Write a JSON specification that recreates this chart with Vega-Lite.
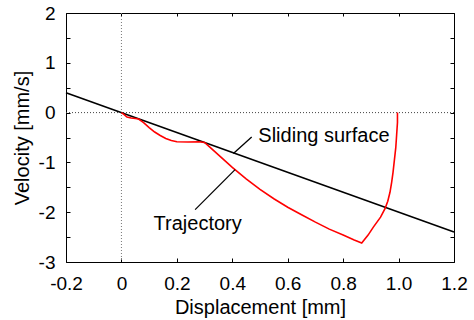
{
  "$schema": "https://vega.github.io/schema/vega-lite/v6.json",
  "autosize": "none",
  "padding": {"left": 66, "top": 13, "right": 20, "bottom": 58},
  "width": 388,
  "height": 249,
  "background": "white",
  "config": {
    "view": {"stroke": "black", "strokeWidth": 1},
    "font": "Liberation Sans",
    "axis": {"labelFont": "Liberation Sans", "titleFont": "Liberation Sans", "labelColor": "black", "titleColor": "black", "ticks": true, "tickColor": "black", "tickWidth": 1, "tickOpacity": 1, "domain": false, "grid": false, "labelFontSize": 19, "titleFontSize": 20, "titleFontWeight": "normal", "zindex": 1}
  },
  "datasets": {
    "surface": [{"x": -0.2, "y": 0.4}, {"x": 1.2, "y": -2.4}],
    "traj": [
      {"x": 0, "y": 0}, {"x": 0.01, "y": -0.04}, {"x": 0.02, "y": -0.09}, {"x": 0.035, "y": -0.11}, {"x": 0.05, "y": -0.12}, {"x": 0.062, "y": -0.13},
      {"x": 0.08, "y": -0.2}, {"x": 0.1, "y": -0.3}, {"x": 0.12, "y": -0.39}, {"x": 0.14, "y": -0.46}, {"x": 0.16, "y": -0.52}, {"x": 0.18, "y": -0.56},
      {"x": 0.2, "y": -0.585}, {"x": 0.24, "y": -0.59}, {"x": 0.28, "y": -0.585}, {"x": 0.3, "y": -0.6}, {"x": 0.32, "y": -0.7}, {"x": 0.34, "y": -0.8},
      {"x": 0.37, "y": -0.95}, {"x": 0.4, "y": -1.1}, {"x": 0.45, "y": -1.33}, {"x": 0.5, "y": -1.54}, {"x": 0.55, "y": -1.73}, {"x": 0.6, "y": -1.9},
      {"x": 0.65, "y": -2.05}, {"x": 0.7, "y": -2.2}, {"x": 0.75, "y": -2.34}, {"x": 0.8, "y": -2.46}, {"x": 0.84, "y": -2.56}, {"x": 0.867, "y": -2.62},
      {"x": 0.89, "y": -2.46}, {"x": 0.909, "y": -2.3}, {"x": 0.935, "y": -2.1}, {"x": 0.951, "y": -1.93}, {"x": 0.961, "y": -1.78}, {"x": 0.969, "y": -1.6},
      {"x": 0.975, "y": -1.4}, {"x": 0.98, "y": -1.2}, {"x": 0.985, "y": -0.95}, {"x": 0.99, "y": -0.7}, {"x": 0.993, "y": -0.45}, {"x": 0.996, "y": -0.2}, {"x": 0.996, "y": 0}
    ],
    "pointers": [
      {"x": 0.47, "y": -0.49, "x2": 0.404, "y2": -0.823},
      {"x": 0.41, "y": -1.145, "x2": 0.266, "y2": -1.948}
    ],
    "labels": [
      {"x": 0.494, "y": -0.46, "text": "Sliding surface"},
      {"x": 0.116, "y": -2.24, "text": "Trajectory"}
    ],
    "zero": [{"v": 0}]
  },
  "layer": [
    {
      "data": {"name": "surface"},
      "mark": {"type": "point", "opacity": 0},
      "encoding": {
        "x": {"field": "x", "type": "quantitative", "scale": {"domain": [-0.2, 1.2], "nice": false, "zero": false},
          "axis": {"orient": "bottom", "title": "Displacement [mm]", "values": [-0.2, 0, 0.2, 0.4, 0.6, 0.8, 1.0, 1.2],
            "labelExpr": "datum.value == 1 ? '1.0' : '' + datum.value", "offset": -4, "tickSize": 4, "labelPadding": 12, "titlePadding": 4, "labelFlush": false}},
        "y": {"field": "y", "type": "quantitative", "scale": {"domain": [-3, 2], "nice": false, "zero": false},
          "axis": {"orient": "left", "title": "Velocity [mm/s]", "values": [-3, -2.5, -2, -1.5, -1, -0.5, 0, 0.5, 1, 1.5, 2],
            "labelExpr": "datum.value % 1 == 0 ? '' + datum.value : ''", "offset": -4, "tickSize": 4, "labelPadding": 11, "titlePadding": 6, "labelFlush": false}}
      }
    },
    {
      "data": {"name": "surface"},
      "mark": {"type": "point", "opacity": 0},
      "encoding": {
        "x": {"field": "x", "type": "quantitative",
          "axis": {"orient": "top", "title": null, "labels": false, "values": [-0.2, 0, 0.2, 0.4, 0.6, 0.8, 1.0, 1.2], "offset": -3, "tickSize": 3}},
        "y": {"field": "y", "type": "quantitative",
          "axis": {"orient": "right", "title": null, "labels": false, "values": [-3, -2.5, -2, -1.5, -1, -0.5, 0, 0.5, 1, 1.5, 2], "offset": -4, "tickSize": 4}}
      }
    },
    {
      "data": {"name": "zero"},
      "mark": {"type": "rule", "color": "#777777", "strokeDash": [1, 2], "strokeWidth": 1},
      "encoding": {"x": {"field": "v", "type": "quantitative", "axis": null}}
    },
    {
      "data": {"name": "zero"},
      "mark": {"type": "rule", "color": "#444444", "strokeDash": [1, 2], "strokeWidth": 1},
      "encoding": {"y": {"field": "v", "type": "quantitative", "axis": null}}
    },
    {
      "data": {"name": "surface"},
      "mark": {"type": "line", "color": "black", "strokeWidth": 1.6},
      "encoding": {
        "x": {"field": "x", "type": "quantitative", "axis": null},
        "y": {"field": "y", "type": "quantitative", "axis": null}
      }
    },
    {
      "data": {"name": "traj"},
      "mark": {"type": "line", "color": "#ff0000", "strokeWidth": 1.6},
      "encoding": {
        "x": {"field": "x", "type": "quantitative", "axis": null},
        "y": {"field": "y", "type": "quantitative", "axis": null},
        "order": {"value": 0}
      }
    },
    {
      "data": {"name": "pointers"},
      "mark": {"type": "rule", "color": "black", "strokeWidth": 1.3},
      "encoding": {
        "x": {"field": "x", "type": "quantitative", "axis": null},
        "y": {"field": "y", "type": "quantitative", "axis": null},
        "x2": {"field": "x2"},
        "y2": {"field": "y2"}
      }
    },
    {
      "data": {"name": "labels"},
      "mark": {"type": "text", "align": "left", "baseline": "middle", "fontSize": 20, "font": "Liberation Sans", "color": "black"},
      "encoding": {
        "x": {"field": "x", "type": "quantitative", "axis": null},
        "y": {"field": "y", "type": "quantitative", "axis": null},
        "text": {"field": "text"}
      }
    }
  ]
}
